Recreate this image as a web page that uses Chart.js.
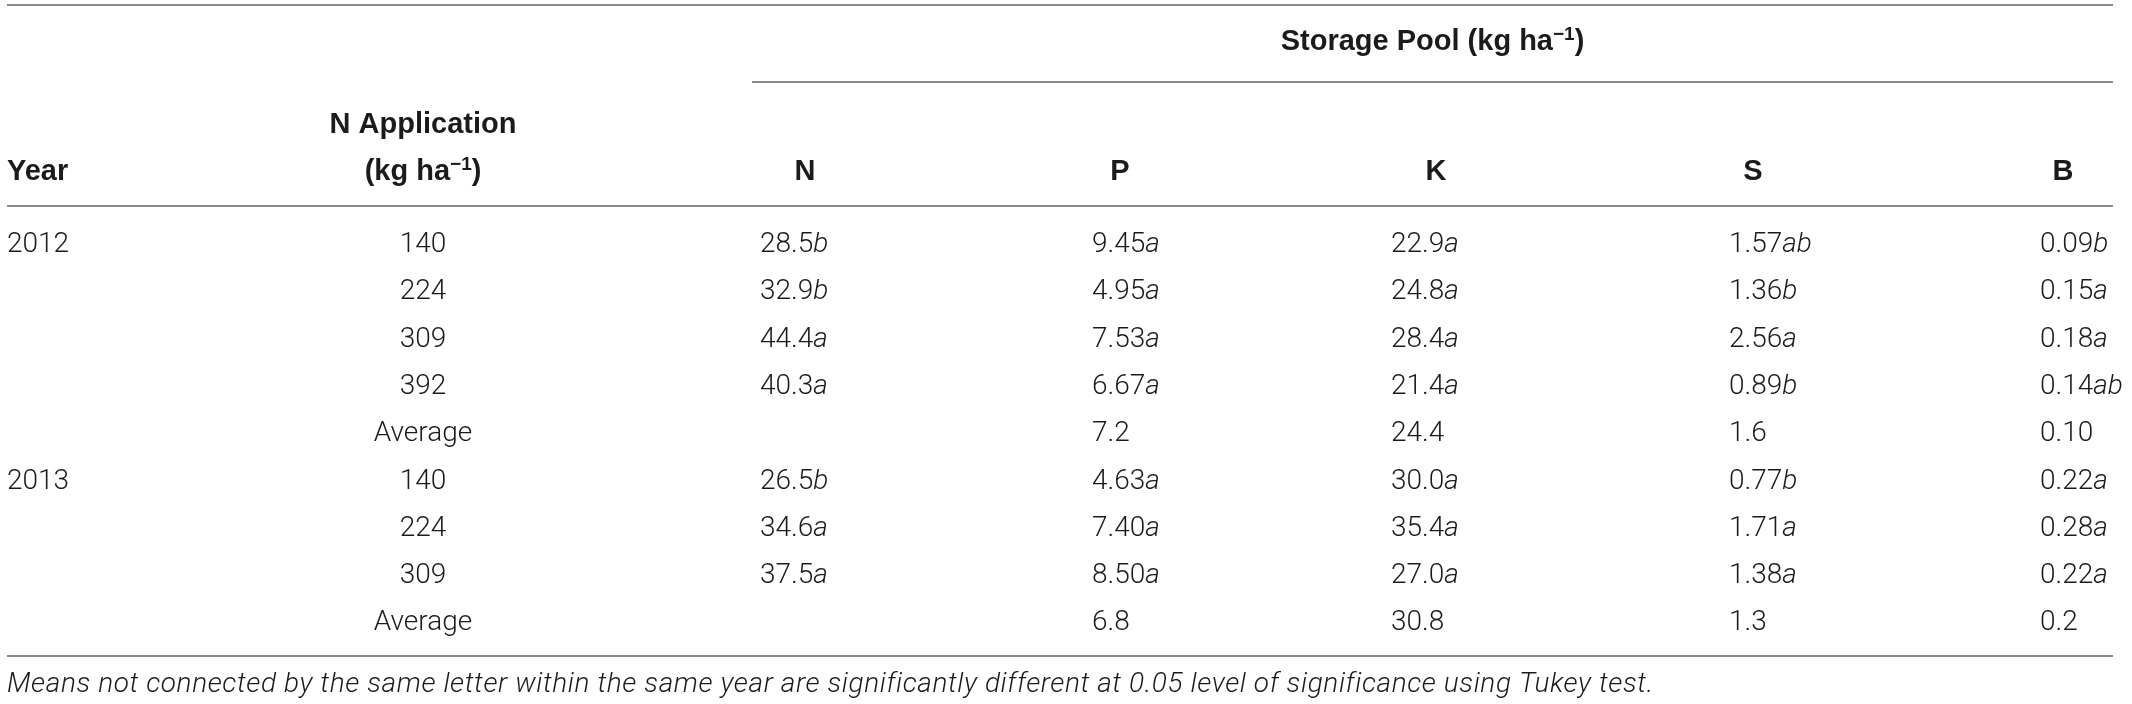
<!DOCTYPE html>
<html>
<head>
<meta charset="utf-8">
<script src="https://cdn.jsdelivr.net/npm/chart.js@4.4.1/dist/chart.umd.min.js"></script>
<style>
  html, body { margin: 0; padding: 0; background: #fff; }
  #wrap { width: 2132px; height: 704px; position: relative; }
</style>
</head>
<body>
<div id="wrap"><canvas id="table"></canvas></div>
<script>
// Table values, one array per column (letters after a number are set in italics)
const years = ['2012', '', '', '', '', '2013', '', '', ''];
const nApplication = ['140', '224', '309', '392', 'Average', '140', '224', '309', 'Average'];
const poolN = ['28.5b', '32.9b', '44.4a', '40.3a', '', '26.5b', '34.6a', '37.5a', ''];
const poolP = ['9.45a', '4.95a', '7.53a', '6.67a', '7.2', '4.63a', '7.40a', '8.50a', '6.8'];
const poolK = ['22.9a', '24.8a', '28.4a', '21.4a', '24.4', '30.0a', '35.4a', '27.0a', '30.8'];
const poolS = ['1.57ab', '1.36b', '2.56a', '0.89b', '1.6', '0.77b', '1.71a', '1.38a', '1.3'];
const poolB = ['0.09b', '0.15a', '0.18a', '0.14ab', '0.10', '0.22a', '0.28a', '0.22a', '0.2'];

const groupHeader = 'Storage Pool (kg ha^−1)';
const columnHeaders = ['Year', '(kg ha^−1)', 'N', 'P', 'K', 'S', 'B'];
const nAppHeaderTop = 'N Application';
const footnote = 'Means not connected by the same letter within the same year are significantly different at 0.05 level of significance using Tukey test.';

// Layout (canvas pixel units)
const W = 2132, H = 704;
const LAYOUT = {
    firstBaseline: 252,
    rowStep: 47.3,
    headerBaseline: 180,
    headerTopBaseline: 133,
    groupBaseline: 50,
    footBaseline: 692,
    left: 7,
    right: 2113,
    groupLeft: 752,
    rules: [5, 82, 206, 656],
    // [dataX, dataAlign, headerX, headerAlign]
    columns: [
        [7, 'left', 7, 'left'],
        [423, 'center', 423, 'center'],
        [760, 'left', 805, 'center'],
        [1092, 'left', 1120, 'center'],
        [1391, 'left', 1436, 'center'],
        [1729, 'left', 1753, 'center'],
        [2040, 'left', 2063, 'center']
    ]
};

const FONTS = {
    head: { family: '"Liberation Sans", Arial, sans-serif', size: 29, weight: 'bold' },
    body: { family: 'Roboto, "Liberation Sans", sans-serif', size: 28, weight: '300' },
    foot: { family: 'Roboto, "Liberation Sans", sans-serif', size: 28, weight: '300', italic: true, spacing: '0.6px' }
};
const TEXT_COLOR = '#1b1b1b';
const RULE_COLOR = '#8a8a8a';

// split "28.5b" -> number + italic letters, "ha^−1" -> superscript
function parseCell(str) {
    const m = str.match(/^([\d.]+)([a-z]+)$/);
    if (m) return [{ t: m[1] }, { t: m[2], italic: true }];
    const parts = [];
    str.split(/\^([^)]+)/).forEach((p, i) => {
        if (p) parts.push(i % 2 ? { t: p, sup: true } : { t: p });
    });
    return parts;
}

function fontString(f, seg) {
    const size = seg.sup ? Math.round(f.size * 0.66) : f.size;
    const italic = (seg.italic || f.italic) ? 'italic ' : '';
    return `${italic}${f.weight} ${size}px ${f.family}`;
}

function drawRich(ctx, segs, x, y, align, f) {
    ctx.letterSpacing = f.spacing || '0px';
    const widths = segs.map(s => { ctx.font = fontString(f, s); return ctx.measureText(s.t).width; });
    const total = widths.reduce((a, b) => a + b, 0);
    let cx = align === 'center' ? x - total / 2 : align === 'right' ? x - total : x;
    segs.forEach((s, i) => {
        ctx.font = fontString(f, s);
        ctx.fillText(s.t, cx, s.sup ? y - f.size * 0.36 : y);
        cx += widths[i];
    });
}

const columns = [years, nApplication, poolN, poolP, poolK, poolS, poolB];

// text datasets: one point per cell, placed on the scales
const textSets = [];
columns.forEach((col, c) => {
    const [dx, dAlign] = LAYOUT.columns[c];
    textSets.push({
        cells: col, align: dAlign, font: FONTS.body,
        data: col.map((_, r) => ({ x: dx, y: LAYOUT.firstBaseline + r * LAYOUT.rowStep }))
    });
});
columnHeaders.forEach((h, c) => {
    const [, , hx, hAlign] = LAYOUT.columns[c];
    textSets.push({ cells: [h], align: hAlign, font: FONTS.head, data: [{ x: hx, y: LAYOUT.headerBaseline }] });
});
textSets.push({ cells: [nAppHeaderTop], align: 'center', font: FONTS.head,
    data: [{ x: LAYOUT.columns[1][2], y: LAYOUT.headerTopBaseline }] });
textSets.push({ cells: [groupHeader], align: 'center', font: FONTS.head,
    data: [{ x: (LAYOUT.groupLeft + LAYOUT.right) / 2, y: LAYOUT.groupBaseline }] });
textSets.push({ cells: [footnote], align: 'left', font: FONTS.foot,
    data: [{ x: LAYOUT.left, y: LAYOUT.footBaseline }] });

// horizontal rules as line datasets
const ruleSets = LAYOUT.rules.map((y, i) => ({
    showLine: true, borderColor: RULE_COLOR, borderWidth: 2, pointRadius: 0,
    data: [{ x: i === 1 ? LAYOUT.groupLeft : LAYOUT.left, y }, { x: LAYOUT.right, y }]
}));

const cellText = {
    id: 'cellText',
    afterDatasetsDraw(chart) {
        const ctx = chart.ctx;
        ctx.save();
        ctx.fillStyle = TEXT_COLOR;
        ctx.textBaseline = 'alphabetic';
        chart.data.datasets.forEach((ds, i) => {
            if (!ds.cells) return;
            chart.getDatasetMeta(i).data.forEach((pt, j) => {
                if (ds.cells[j]) drawRich(ctx, parseCell(ds.cells[j]), pt.x, pt.y, ds.align, ds.font);
            });
        });
        ctx.restore();
    }
};

new Chart(document.getElementById('table'), {
    type: 'scatter',
    data: {
        datasets: [
            ...ruleSets,
            ...textSets.map(s => ({ ...s, pointRadius: 0, showLine: false }))
        ]
    },
    options: {
        responsive: true,
        maintainAspectRatio: false,
        animation: false,
        layout: { padding: 0 },
        plugins: { legend: { display: false }, tooltip: { enabled: false } },
        events: [],
        scales: {
            x: { type: 'linear', min: 0, max: W, display: false },
            y: { type: 'linear', min: 0, max: H, reverse: true, display: false }
        }
    },
    plugins: [cellText]
});
</script>
</body>
</html>
